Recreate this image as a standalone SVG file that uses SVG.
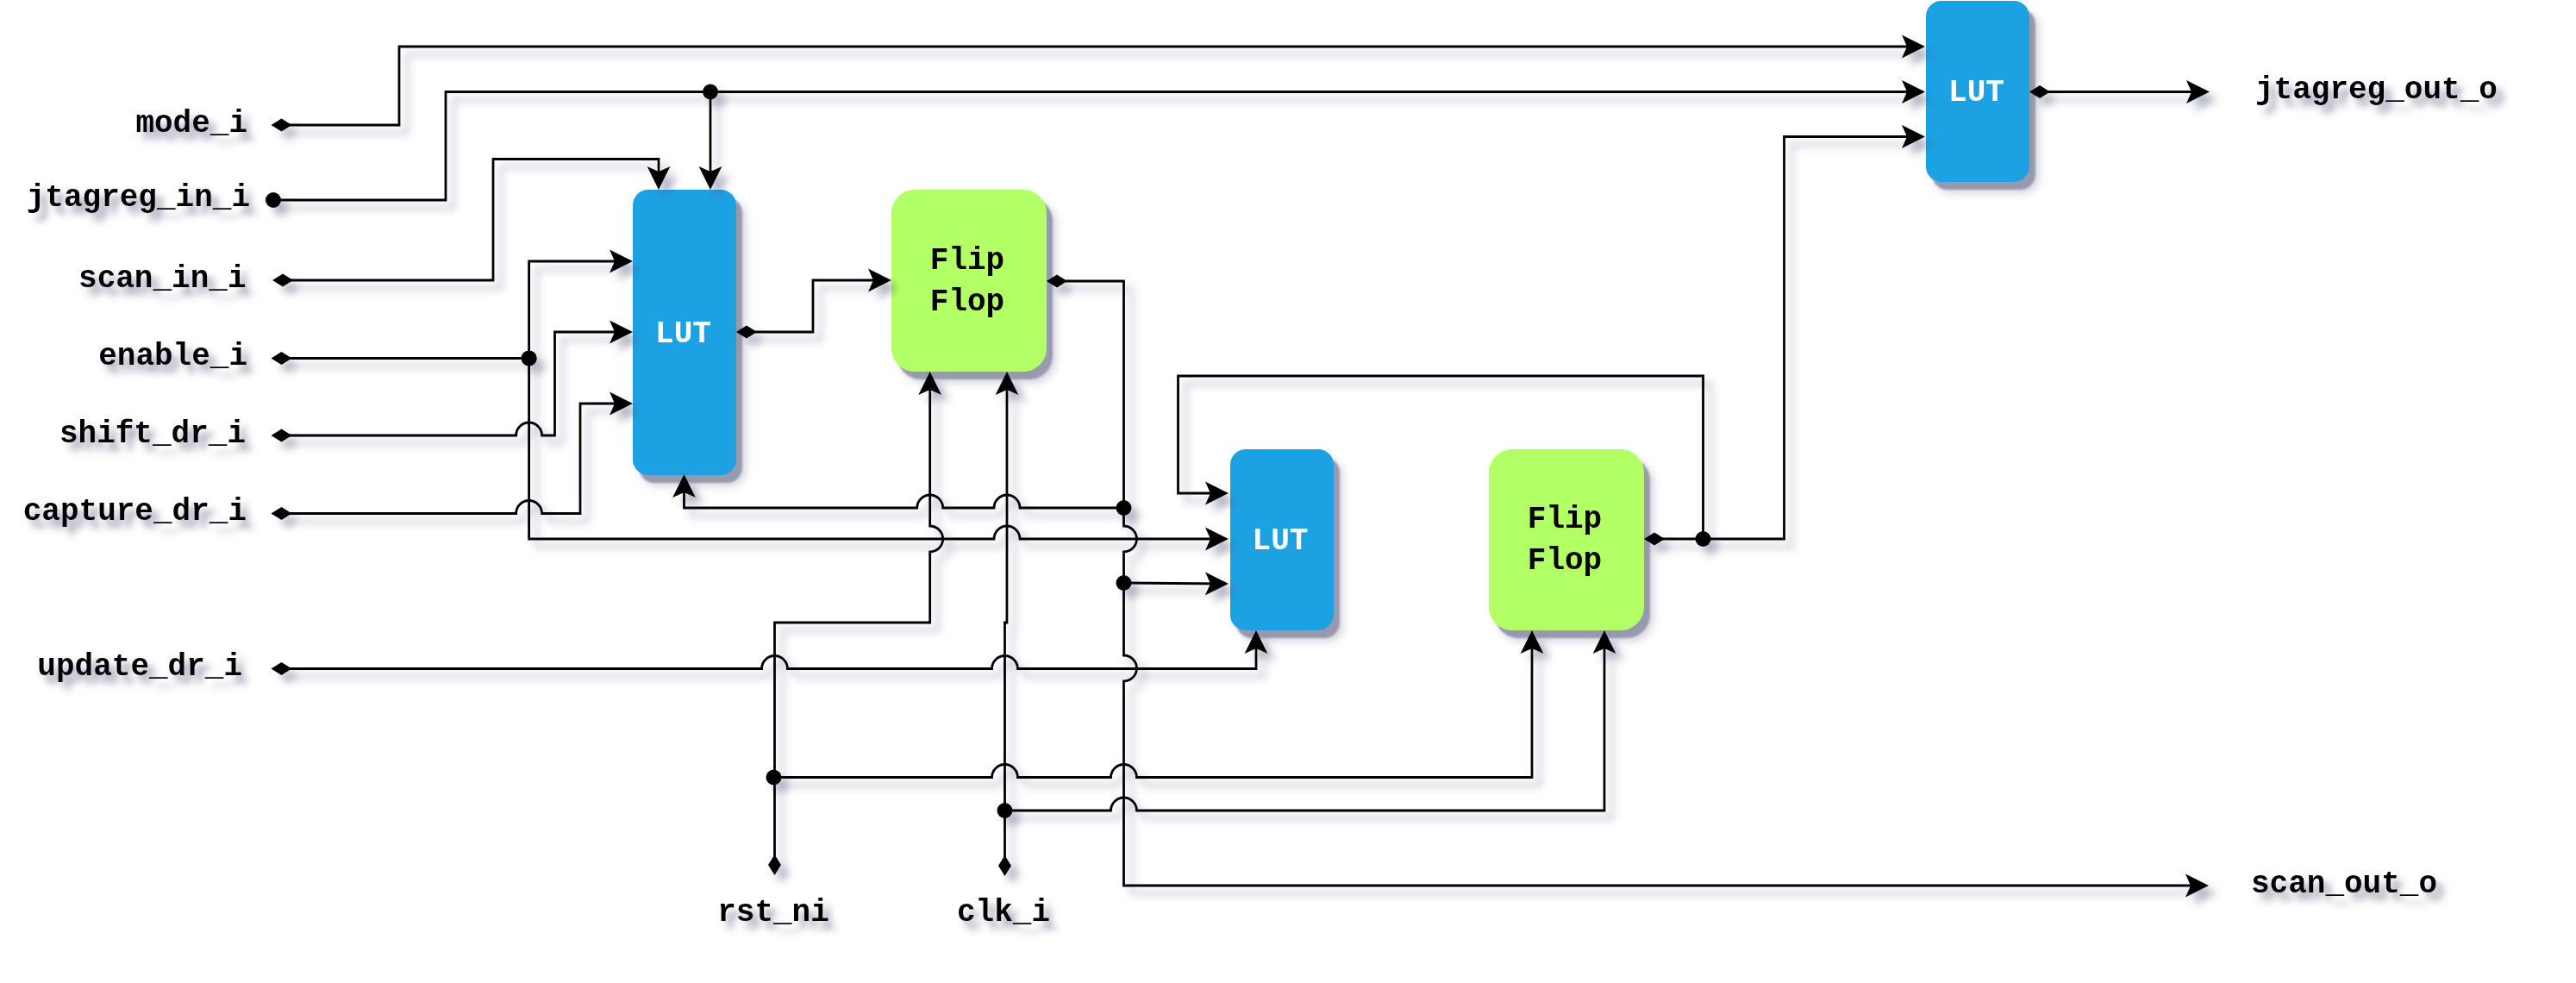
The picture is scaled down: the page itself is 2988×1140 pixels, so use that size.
<svg xmlns="http://www.w3.org/2000/svg" width="2988" height="1140" viewBox="0 0 2988 1140">
<style>
text{font-family:"Liberation Mono","DejaVu Sans Mono",monospace;font-weight:700;font-size:36px;fill:#000}
.lut{fill:#1ba1e2}.ff{fill:#b3ff66}
.w{fill:#fff}
#connectors path{fill:none;stroke:#000;stroke-width:2.8}
.a{marker-end:url(#arrow)}.d{marker-start:url(#diamond)}.j{marker-start:url(#dot)}
</style>
<defs>
<filter id="nodeShadow" filterUnits="userSpaceOnUse" x="0" y="0" width="2988" height="1140">
<feGaussianBlur in="SourceAlpha" stdDeviation="5" result="b"/><feOffset in="b" dx="11" dy="13" result="bo"/><feFlood flood-color="#55577a" flood-opacity="0.25"/><feComposite in2="bo" operator="in" result="soft"/>
<feGaussianBlur in="SourceAlpha" stdDeviation="0.8" result="c"/><feOffset in="c" dx="7" dy="9" result="co"/><feFlood flood-color="#9799ae"/><feComposite in2="co" operator="in" result="hard"/>
<feMerge><feMergeNode in="soft"/><feMergeNode in="hard"/><feMergeNode in="SourceGraphic"/></feMerge>
</filter>
<filter id="lineShadow" filterUnits="userSpaceOnUse" x="0" y="0" width="2988" height="1140"><feDropShadow dx="9" dy="9" stdDeviation="5" flood-color="#55577a" flood-opacity="0.45"/></filter>
<filter id="textShadow" filterUnits="userSpaceOnUse" x="0" y="0" width="2988" height="1140"><feDropShadow dx="8" dy="9" stdDeviation="4.5" flood-color="#55577a" flood-opacity="0.6"/></filter>
<marker id="arrow" markerUnits="userSpaceOnUse" markerWidth="28" markerHeight="28" viewBox="0 0 28 28" refX="19" refY="14" orient="auto"><path d="M0 .6L27 14L0 27.4L6 14z"/></marker>
<marker id="diamond" markerUnits="userSpaceOnUse" markerWidth="26" markerHeight="16" viewBox="0 0 26 16" refX="13" refY="8" orient="auto"><path d="M1 8L13 .5L25 8L13 15.5z"/></marker>
<marker id="dot" markerUnits="userSpaceOnUse" markerWidth="20" markerHeight="20" viewBox="0 0 20 20" refX="10" refY="10"><circle cx="10" cy="10" r="9"/></marker>
</defs>
<rect width="2988" height="1140" fill="#fff"/>
<g id="lut-1" filter="url(#nodeShadow)"><rect class="lut" x="734" y="220" width="120" height="331" rx="18"/><text class="w" x="792.5" y="397" text-anchor="middle">LUT</text></g>
<g id="ff-1" filter="url(#nodeShadow)"><rect class="ff" x="1034" y="220" width="180" height="211" rx="27"/><text x="1122" y="312" text-anchor="middle">Flip</text><text x="1122" y="360" text-anchor="middle">Flop</text></g>
<g id="lut-2" filter="url(#nodeShadow)"><rect class="lut" x="1427" y="521" width="120" height="210" rx="18"/><text class="w" x="1485" y="637" text-anchor="middle">LUT</text></g>
<g id="ff-2" filter="url(#nodeShadow)"><rect class="ff" x="1727" y="521" width="180" height="210" rx="27"/><text x="1815" y="612" text-anchor="middle">Flip</text><text x="1815" y="660" text-anchor="middle">Flop</text></g>
<g id="lut-3" filter="url(#nodeShadow)"><rect class="lut" x="2234" y="1" width="120" height="210" rx="18"/><text class="w" x="2292.5" y="117" text-anchor="middle">LUT</text></g>
<g id="connectors" filter="url(#lineShadow)">
<path class="d a" d="M326.5 145H463V54H2225"/>
<path class="j a" d="M317 232H517V106.5H2225"/>
<path class="j a" d="M824 106.5V212"/>
<path class="d a" d="M328 325H572V184.5H764V212"/>
<path class="d" d="M326.5 415.5H613.6"/>
<path class="j a" d="M613.6 415.5V303H726"/>
<path class="a" d="M613.6 415.5V625H1153a15 15 0 0 1 30 0H1417"/>
<path class="d a" d="M326.5 505H598.6a15 15 0 0 1 30 0H643.5V385H726"/>
<path class="d a" d="M326.5 595.5H598.6a15 15 0 0 1 30 0H673V468H726"/>
<path class="d a" d="M866 385H943V325H1026"/>
<path class="d a" d="M1226 326H1303.5V610a15 15 0 0 1 0 30V760a15 15 0 0 1 0 30V1027H2554"/>
<path class="j a" d="M1303.5 589H1183a15 15 0 0 0 -30 0H1093.7a15 15 0 0 0 -30 0H793.5V558"/>
<path class="j a" d="M1303.5 676L1417 677"/>
<path class="d a" d="M326.5 775.5H883.5a15 15 0 0 1 30 0H1150.5a15 15 0 0 1 30 0H1457V739"/>
<path class="d a" d="M898.5 1003V722H1078.7V640a15 15 0 0 0 0 -30V439"/>
<path class="j a" d="M897.5 901.5H1150.5a15 15 0 0 1 30 0H1288.5a15 15 0 0 1 30 0H1777V739"/>
<path class="d a" d="M1165.5 1004V722H1168V439"/>
<path class="j a" d="M1165.5 940H1288.5a15 15 0 0 1 30 0H1861V739"/>
<path class="j a" d="M1975.5 625V436H1366.5V572H1417"/>
<path class="d a" d="M1919 625H2069.5V158.5H2225"/>
<path class="d a" d="M2366 106.5H2555"/>
<path class="j" d="M613.6 415.5h.01"/>
</g>
<g id="labels" filter="url(#textShadow)">
<text x="287" y="153" text-anchor="end">mode_i</text>
<text x="290" y="239" text-anchor="end">jtagreg_in_i</text>
<text x="285.5" y="333" text-anchor="end">scan_in_i</text>
<text x="287" y="423" text-anchor="end">enable_i</text>
<text x="285" y="513" text-anchor="end">shift_dr_i</text>
<text x="286" y="603" text-anchor="end">capture_dr_i</text>
<text x="281" y="783" text-anchor="end">update_dr_i</text>
<text x="897" y="1068" text-anchor="middle">rst_ni</text>
<text x="1164" y="1068" text-anchor="middle">clk_i</text>
<text x="2616" y="114">jtagreg_out_o</text>
<text x="2611" y="1035">scan_out_o</text>
</g>
</svg>
